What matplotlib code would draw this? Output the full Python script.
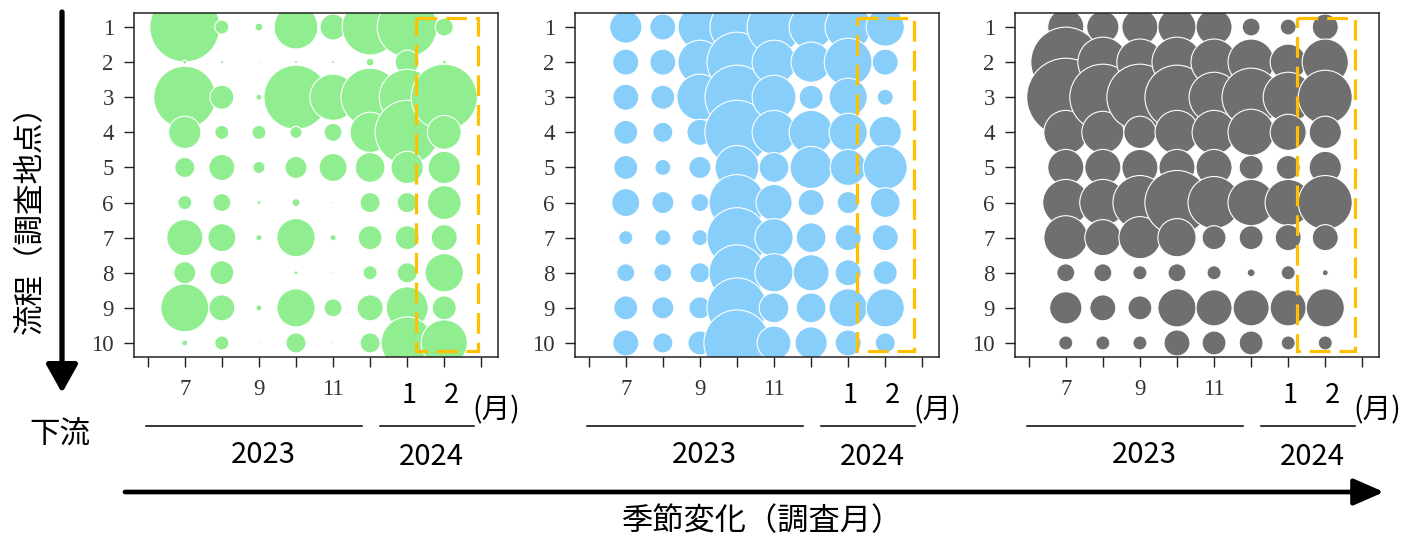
import matplotlib
matplotlib.use("Agg")
import matplotlib.pyplot as plt
import numpy as np
from matplotlib.patches import Rectangle
from matplotlib.transforms import blended_transform_factory

# Survey months on a continuous axis: 7..12 = Jul-Dec 2023, 13, 14 = Jan, Feb 2024
months = [7, 8, 9, 10, 11, 12, 13, 14]
sites = list(range(1, 11))
month_ticks = list(range(6, 16))
month_tick_labels = {7: "7", 9: "9", 11: "11"}
year_labels = ["2023", "2024"]
new_year_months = ["1", "2"]

# Abundance index per site (rows, upstream -> downstream) and month (columns)
green_values = [
    [94, 3.8, 1.2, 37, 13, 60, 69, 6.2],
    [0.3, 0.2, 0.1, 0.2, 0.2, 1.2, 11, 0.3],
    [74, 11, 0.7, 79, 41, 65, 60, 84],
    [20, 3.8, 3.8, 2.8, 6.2, 31, 79, 22],
    [7.7, 13, 2.8, 9.3, 15, 17, 20, 20],
    [3.8, 6.2, 0.3, 1.2, 0.1, 7.7, 7.7, 22],
    [25, 15, 0.7, 28, 0.7, 11, 11, 13],
    [9.3, 11, 0, 0.3, 0.1, 3.8, 7.7, 28],
    [44, 13, 0.7, 28, 6.2, 13, 34, 11],
    [0.7, 3.8, 0.1, 7.7, 0.1, 7.7, 52, 41],
]
blue_values = [
    [20, 13, 37, 56, 56, 37, 41, 28],
    [13, 13, 37, 69, 37, 31, 44, 13],
    [13, 11, 41, 79, 37, 11, 28, 4.9],
    [11, 7.7, 13, 79, 37, 37, 28, 20],
    [11, 4.9, 9.3, 37, 17, 34, 25, 37],
    [15, 9.3, 6.2, 60, 25, 13, 9.3, 17],
    [3.8, 4.9, 4.9, 69, 28, 17, 13, 13],
    [6.2, 6.2, 7.7, 60, 28, 25, 13, 11],
    [11, 9.3, 9.3, 69, 17, 17, 28, 28],
    [13, 7.7, 11, 84, 22, 20, 13, 7.7],
]
gray_values = [
    [25, 20, 25, 28, 25, 6.2, 4.9, 13],
    [94, 48, 41, 48, 41, 41, 25, 41],
    [117, 84, 84, 79, 48, 65, 48, 56],
    [37, 34, 20, 37, 37, 41, 25, 20],
    [25, 25, 25, 25, 25, 11, 11, 20],
    [41, 41, 56, 79, 52, 41, 41, 56],
    [37, 25, 34, 28, 11, 11, 13, 13],
    [6.2, 6.2, 3.8, 6.2, 3.8, 1.2, 3.8, 0.7],
    [20, 13, 11, 28, 25, 25, 25, 28],
    [3.8, 3.8, 3.8, 13, 11, 11, 3.8, 3.8],
]

# (values, colour, left edge in px, right end of the Feb highlight box)
panels = [
    (green_values, "#90EE90", 134, 14.9),
    (blue_values, "#87CEFA", 575, 14.78),
    (gray_values, "#6F6F6F", 1015, 14.8),
]

SIZE_SCALE = 27.0
W, H = 1407, 538
CJK = ["Noto Sans CJK JP", "DejaVu Sans"]
SERIF = "Liberation Serif"

fig = plt.figure(figsize=(W / 100, H / 100), dpi=100)
fig.patch.set_facecolor("white")

ax_bottom = (H - 357) / H
ax_height = 344 / H
ax_width = 364 / W

for values, color, left_px, box_right in panels:
    ax = fig.add_axes([left_px / W, ax_bottom, ax_width, ax_height])
    vals = np.array(values, dtype=float)
    for j, m in enumerate(months):
        ax.scatter(np.full(len(sites), m), sites, s=vals[:, j] * SIZE_SCALE,
                   c=color, edgecolors="white", linewidths=0.8, zorder=2)
    ax.set_xlim(5.63, 15.45)
    ax.set_ylim(10.4, 0.6)
    ax.set_xticks(month_ticks)
    ax.set_xticklabels([month_tick_labels.get(t, "") for t in month_ticks])
    ax.set_yticks(sites)
    ax.set_yticklabels([str(s) for s in sites])
    ax.tick_params(length=7.5, width=1.0, labelsize=16.5,
                   labelcolor="#333333", color="#222222")
    ax.tick_params(axis="x", pad=8)
    ax.tick_params(axis="y", pad=7)
    for lab in ax.get_xticklabels() + ax.get_yticklabels():
        lab.set_fontfamily(SERIF)
    for sp in ax.spines.values():
        sp.set_linewidth(1.1)
        sp.set_color("#222222")

    # Highlight of the February survey column
    ax.add_patch(Rectangle((13.23, 0.74), box_right - 13.23, 9.48, fill=False,
                           edgecolor="#FFC000", linewidth=2.3,
                           linestyle=(0, (6.5, 2.8)), clip_on=False, zorder=5))

    tr = blended_transform_factory(ax.transData, ax.transAxes)
    ax.text(13.05, -0.112, new_year_months[0], transform=tr, ha="center",
            va="center", fontsize=19.5, family=CJK)
    ax.text(14.2, -0.112, new_year_months[1], transform=tr, ha="center",
            va="center", fontsize=19.5, family=CJK)
    ax.text(15.41, -0.154, "(月)", transform=tr, ha="center", va="center",
            fontsize=20.5, family=CJK)
    ax.plot([5.95, 11.77], [-0.2006, -0.2006], transform=tr, color="black",
            lw=1.1, clip_on=False)
    ax.plot([12.26, 14.79], [-0.2006, -0.2006], transform=tr, color="black",
            lw=1.1, clip_on=False)
    ax.text(9.13, -0.285, year_labels[0], transform=tr, ha="center",
            va="center", fontsize=21, family=CJK)
    ax.text(13.66, -0.291, year_labels[1], transform=tr, ha="center",
            va="center", fontsize=21, family=CJK)

# Overlay in pixel coordinates for the direction arrows and axis captions
oax = fig.add_axes([0, 0, 1, 1])
oax.set_xlim(0, W)
oax.set_ylim(H, 0)
oax.axis("off")
oax.patch.set_alpha(0)

oax.annotate("", xy=(1384, 492), xytext=(125, 492),
             arrowprops=dict(arrowstyle="-|>,head_length=0.8,head_width=0.35",
                             mutation_scale=23, lw=3.4, color="black",
                             shrinkA=0, shrinkB=0))
oax.annotate("", xy=(62, 393), xytext=(62, 12),
             arrowprops=dict(arrowstyle="-|>,head_length=0.75,head_width=0.42",
                             mutation_scale=23, lw=3.8, color="black",
                             shrinkA=0, shrinkB=0))

oax.text(762, 521, "季節変化（調査月）", ha="center", va="center",
         fontsize=22.5, family=CJK)
oax.text(30, 212, "流程（調査地点）", ha="center", va="center",
         rotation=90, fontsize=22, family=CJK)
oax.text(60, 435, "下流", ha="center", va="center", fontsize=22, family=CJK)

fig.savefig("out.png", dpi=100, facecolor="white")
